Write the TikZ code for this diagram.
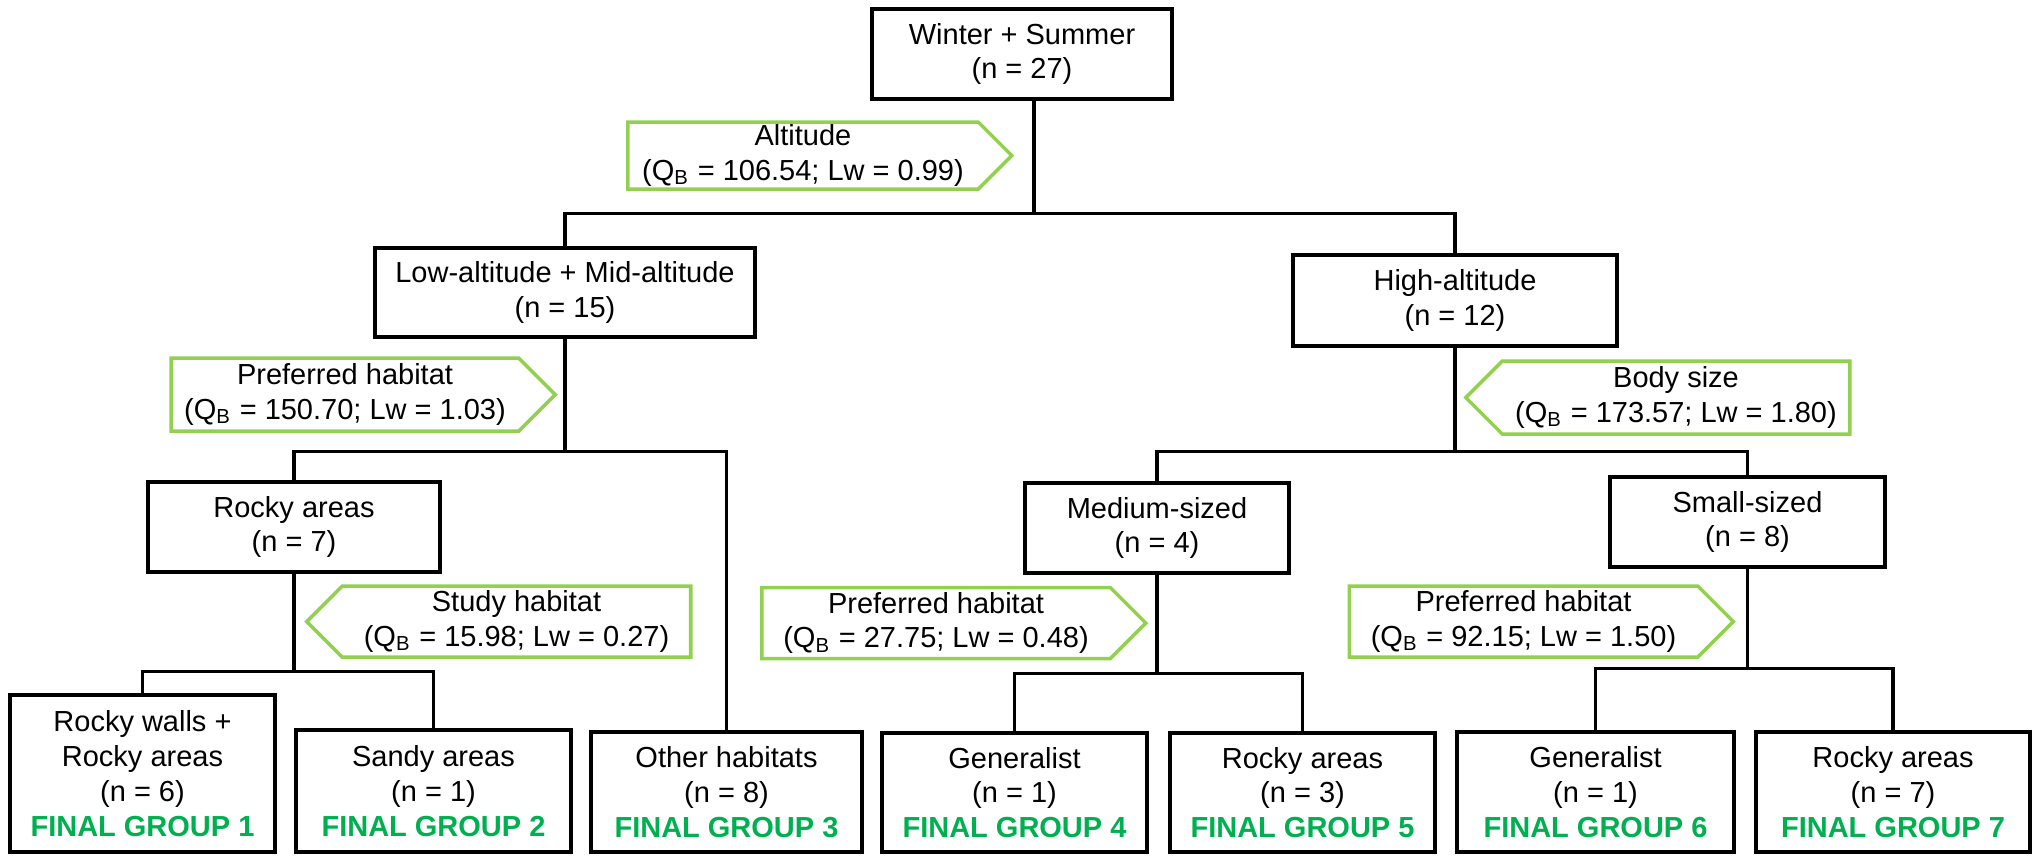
\documentclass[tikz,border=0pt]{standalone}
\usepackage{fontspec}
\setmainfont{Liberation Sans}
\usepackage{tikz}
\usetikzlibrary{shapes.symbols}
\definecolor{tree-green}{HTML}{92D050}
\definecolor{group-green}{HTML}{00B050}
\newcommand{\qb}{Q\textsubscript{B}}
\newcommand{\fgroup}[1]{\textcolor{group-green}{\textbf{FINAL GROUP #1}}}

\begin{document}
\begin{tikzpicture}[
    box/.style={draw, line width=1pt, inner sep=0pt, align=center,
        font=\fontsize{8.25}{9.9}\selectfont},
    split/.style={draw=tree-green, line width=1pt, shape=signal,
        signal pointer angle=90, inner sep=0pt, align=center,
        minimum width=3.84cm, minimum height=0.71cm,
        font=\fontsize{8.25}{9.9}\selectfont},
    link/.style={line width=0.9pt}
]
    \useasboundingbox (0,0) rectangle (20.35,-8.56);

    % --- NOS DA ARVORE ---
    \node[box, minimum width=3.0cm, minimum height=0.90cm] (root) at (10.22,-0.54) {Winter + Summer\\(n = 27)};

    \node[box, minimum width=3.8cm, minimum height=0.89cm] (low) at (5.65,-2.925) {Low-altitude + Mid-altitude\\(n = 15)};
    \node[box, minimum width=3.24cm, minimum height=0.91cm] (high) at (14.55,-3.005) {High-altitude\\(n = 12)};

    \node[box, minimum width=2.92cm, minimum height=0.90cm] (rocky) at (2.94,-5.27) {Rocky areas\\(n = 7)};
    \node[box, minimum width=2.64cm, minimum height=0.90cm] (medium) at (11.57,-5.28) {Medium-sized\\(n = 4)};
    \node[box, minimum width=2.75cm, minimum height=0.90cm] (small) at (17.475,-5.22) {Small-sized\\(n = 8)};

    % --- GRUPOS FINAIS ---
    \node[box, minimum width=2.65cm, minimum height=1.57cm] (fg1) at (1.425,-7.735) {Rocky walls +\\Rocky areas\\(n = 6)\\\fgroup{1}};
    \node[box, minimum width=2.75cm, minimum height=1.22cm] (fg2) at (4.335,-7.91) {Sandy areas\\(n = 1)\\\fgroup{2}};
    \node[box, minimum width=2.71cm, minimum height=1.20cm] (fg3) at (7.265,-7.92) {Other habitats\\(n = 8)\\\fgroup{3}};
    \node[box, minimum width=2.65cm, minimum height=1.19cm] (fg4) at (10.145,-7.925) {Generalist\\(n = 1)\\\fgroup{4}};
    \node[box, minimum width=2.65cm, minimum height=1.19cm] (fg5) at (13.025,-7.925) {Rocky areas\\(n = 3)\\\fgroup{5}};
    \node[box, minimum width=2.77cm, minimum height=1.20cm] (fg6) at (15.955,-7.92) {Generalist\\(n = 1)\\\fgroup{6}};
    \node[box, minimum width=2.74cm, minimum height=1.20cm] (fg7) at (18.93,-7.92) {Rocky areas\\(n = 7)\\\fgroup{7}};

    % --- VARIAVEIS DE DIVISAO ---
    \node[split, signal to=east, minimum height=0.67cm] (altitude) at (8.03,-1.555) {Altitude\\(\qb{} = 106.54; Lw = 0.99)};
    \node[split, signal to=east, minimum height=0.73cm] (habitat-a) at (3.45,-3.945) {Preferred habitat\\(\qb{} = 150.70; Lw = 1.03)};
    \node[split, signal to=west, minimum height=0.73cm] (body) at (16.76,-3.975) {Body size\\(\qb{} = 173.57; Lw = 1.80)};
    \node[split, signal to=west] (study) at (5.165,-6.215) {Study habitat\\(\qb{} = 15.98; Lw = 0.27)};
    \node[split, signal to=east] (habitat-b) at (9.36,-6.23) {Preferred habitat\\(\qb{} = 27.75; Lw = 0.48)};
    \node[split, signal to=east] (habitat-c) at (15.235,-6.215) {Preferred habitat\\(\qb{} = 92.15; Lw = 1.50)};

    % --- LIGACOES ---
    \draw[link] ([xshift=0.12cm]root.south) -- ++(0,-1.13) coordinate (s1);
    \draw[link] (s1) -| (low.north);
    \draw[link] (s1) -| (high.north);

    \draw[link] (low.south) -- ++(0,-1.13) coordinate (s2);
    \draw[link] (s2) -| (rocky.north);
    \draw[link] (s2) -| (fg3.north);

    \draw[link] (high.south) -- ++(0,-1.04) coordinate (s3);
    \draw[link] (s3) -| (medium.north);
    \draw[link] (s3) -| (small.north);

    \draw[link] (rocky.south) -- ++(0,-0.98) coordinate (s4);
    \draw[link] (s4) -| (fg1.north);
    \draw[link] (s4) -| (fg2.north);

    \draw[link] (medium.south) -- ++(0,-0.99) coordinate (s5);
    \draw[link] (s5) -| (fg4.north);
    \draw[link] (s5) -| (fg5.north);

    \draw[link] (small.south) -- ++(0,-1.00) coordinate (s6);
    \draw[link] (s6) -| (fg6.north);
    \draw[link] (s6) -| (fg7.north);

\end{tikzpicture}
\end{document}
